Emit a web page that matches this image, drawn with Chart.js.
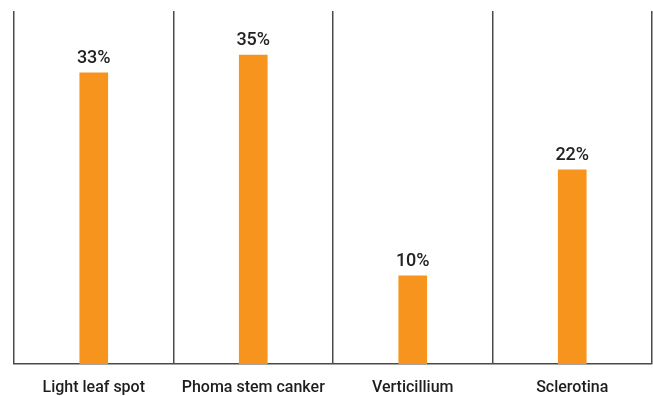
<!DOCTYPE html>
<html>
<head>
<meta charset="utf-8">
<script src="https://cdn.jsdelivr.net/npm/chart.js@4"></script>
<style>
  html, body { margin: 0; padding: 0; background: #fff; }
  #wrap { width: 653px; height: 396px; }
</style>
</head>
<body>
<div id="wrap"><canvas id="grafico"></canvas></div>
<script>
// --- Dados ---
const doencas = ['Light leaf spot', 'Phoma stem canker', 'Verticillium', 'Sclerotina'];
const percentuais = [33, 35, 10, 22];

const fonte = 'Roboto, "Liberation Sans", Arial, sans-serif';

// escreve o valor em cima de cada barra
const rotulosBarras = {
  id: 'rotulosBarras',
  afterDatasetsDraw(chart) {
    const ctx = chart.ctx;
    const meta = chart.getDatasetMeta(0);
    ctx.save();
    ctx.font = '500 18px ' + fonte;
    ctx.fillStyle = '#222';
    ctx.textAlign = 'center';
    ctx.textBaseline = 'alphabetic';
    meta.data.forEach((bar, i) => {
      ctx.fillText(percentuais[i] + '%', bar.x, bar.y - 10);
    });
    ctx.restore();
  }
};

const ctx = document.getElementById('grafico').getContext('2d');
const chart = new Chart(ctx, {
  type: 'bar',
  data: {
    labels: doencas,
    datasets: [{
      data: percentuais,
      backgroundColor: '#F7941D',
      barThickness: 28
    }]
  },
  options: {
    responsive: true,
    maintainAspectRatio: false,
    animation: false,
    layout: { padding: { left: 14, right: 1, top: 11, bottom: 0 } },
    plugins: {
      legend: { display: false },
      tooltip: { enabled: false }
    },
    scales: {
      x: {
        offset: true,
        afterFit: (escala) => { escala.height = 32; },
        grid: {
          offset: true,
          color: '#4a4a4a',
          lineWidth: 1.5,
          drawTicks: false
        },
        border: { color: '#4a4a4a', width: 1.5 },
        ticks: {
          padding: 14,
          color: '#1e1e1e',
          maxRotation: 0,
          font: { family: fonte, size: 16, weight: '500' }
        }
      },
      y: {
        display: false,
        min: 0,
        max: 40
      }
    }
  },
  plugins: [rotulosBarras]
});
</script>
</body>
</html>
